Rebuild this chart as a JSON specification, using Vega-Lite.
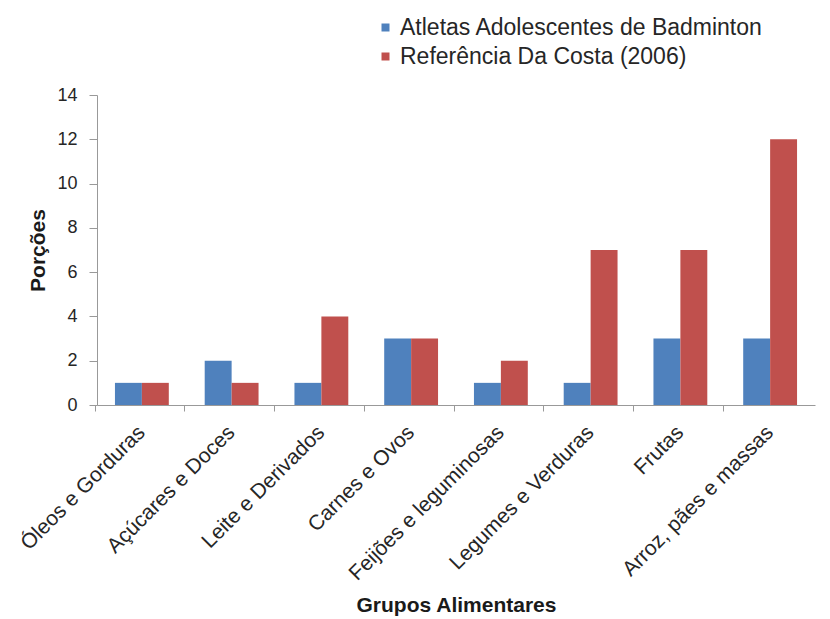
{
  "$schema": "https://vega.github.io/schema/vega-lite/v6.json",
  "autosize": "none",
  "width": 718,
  "height": 310,
  "padding": {"left": 97, "top": 95, "right": 15, "bottom": 214},
  "background": "white",
  "config": {
    "view": {"stroke": null},
    "font": "Liberation Sans",
    "axis": {"domainColor": "#999999", "tickColor": "#999999", "labelColor": "#262626", "titleColor": "#1a1a1a", "labelFont": "Liberation Sans", "titleFont": "Liberation Sans"}
  },
  "data": {
    "values": [
      {"grupo": "Óleos e Gorduras", "serie": "Atletas Adolescentes de Badminton", "porcoes": 1},
      {"grupo": "Óleos e Gorduras", "serie": "Referência Da Costa (2006)", "porcoes": 1},
      {"grupo": "Açúcares e Doces", "serie": "Atletas Adolescentes de Badminton", "porcoes": 2},
      {"grupo": "Açúcares e Doces", "serie": "Referência Da Costa (2006)", "porcoes": 1},
      {"grupo": "Leite e Derivados", "serie": "Atletas Adolescentes de Badminton", "porcoes": 1},
      {"grupo": "Leite e Derivados", "serie": "Referência Da Costa (2006)", "porcoes": 4},
      {"grupo": "Carnes e Ovos", "serie": "Atletas Adolescentes de Badminton", "porcoes": 3},
      {"grupo": "Carnes e Ovos", "serie": "Referência Da Costa (2006)", "porcoes": 3},
      {"grupo": "Feijões e leguminosas", "serie": "Atletas Adolescentes de Badminton", "porcoes": 1},
      {"grupo": "Feijões e leguminosas", "serie": "Referência Da Costa (2006)", "porcoes": 2},
      {"grupo": "Legumes e Verduras", "serie": "Atletas Adolescentes de Badminton", "porcoes": 1},
      {"grupo": "Legumes e Verduras", "serie": "Referência Da Costa (2006)", "porcoes": 7},
      {"grupo": "Frutas", "serie": "Atletas Adolescentes de Badminton", "porcoes": 3},
      {"grupo": "Frutas", "serie": "Referência Da Costa (2006)", "porcoes": 7},
      {"grupo": "Arroz, pães e massas", "serie": "Atletas Adolescentes de Badminton", "porcoes": 3},
      {"grupo": "Arroz, pães e massas", "serie": "Referência Da Costa (2006)", "porcoes": 12}
    ]
  },
  "mark": {"type": "bar"},
  "encoding": {
    "x": {
      "field": "grupo", "type": "nominal", "sort": null,
      "scale": {"paddingInner": 0.4, "paddingOuter": 0.2},
      "axis": {
        "title": "Grupos Alimentares", "titleFontSize": 21, "titleFontWeight": "bold", "titlePadding": 11,
        "labelAngle": -45, "labelAlign": "right", "labelBaseline": "middle", "labelFontSize": 21, "labelPadding": 18,
        "tickSize": 6, "bandPosition": -0.37, "labelOverlap": false, "labelLimit": 400
      }
    },
    "xOffset": {"field": "serie", "type": "nominal"},
    "y": {
      "field": "porcoes", "type": "quantitative",
      "scale": {"domain": [0, 14]},
      "axis": {
        "title": "Porções", "titleFontSize": 21, "titleFontWeight": "bold", "titlePadding": 8,
        "values": [0, 2, 4, 6, 8, 10, 12, 14], "grid": false, "labelFontSize": 18, "tickSize": 8, "labelPadding": 12
      }
    },
    "color": {
      "field": "serie", "type": "nominal",
      "scale": {"range": ["#4F81BD", "#C0504D"]},
      "legend": {
        "title": null, "orient": "none", "legendX": 277, "legendY": -79,
        "symbolType": "square", "symbolSize": 64, "labelFontSize": 23, "labelColor": "#262626",
        "rowPadding": 5, "symbolOffset": 0, "labelOffset": 3, "labelLimit": 500
      }
    }
  }
}
